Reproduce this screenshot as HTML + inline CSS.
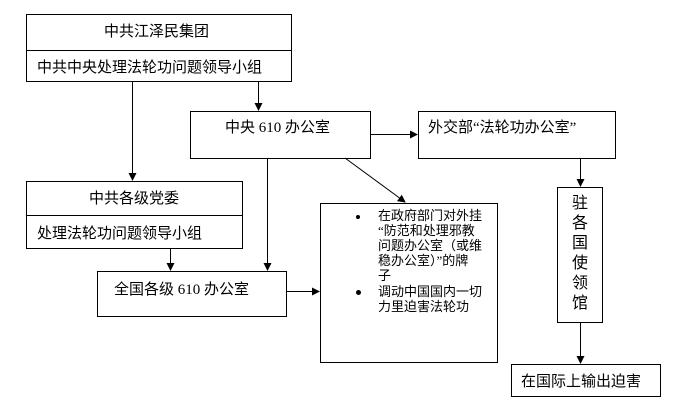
<!DOCTYPE html>
<html><head><meta charset="utf-8"><style>
body{margin:0;background:#fff;width:674px;height:405px;overflow:hidden;position:relative;font-family:"Liberation Serif","Noto Sans CJK SC",sans-serif;color:#000}
.b{position:absolute;border:1px solid #000;box-sizing:border-box;background:#fff}
.t{position:absolute;font-size:15px;white-space:nowrap}
svg{position:absolute;left:0;top:0}
</style></head><body>
<div class="b" style="left:26px;top:14px;width:266px;height:68px"></div>
<div style="position:absolute;left:26px;top:50px;width:266px;height:1px;background:#000"></div>
<div class="t" style="left:104px;top:20px">中共江泽民集团</div>
<div class="t" style="left:37px;top:56px">中共中央处理法轮功问题领导小组</div>

<div class="b" style="left:190px;top:111px;width:181px;height:48px"></div>
<div class="t" style="left:225px;top:116px">中央 610 办公室</div>

<div class="b" style="left:418px;top:111px;width:198px;height:48px"></div>
<div class="t" style="left:428px;top:116px">外交部“法轮功办公室”</div>

<div class="b" style="left:26px;top:181px;width:217px;height:68px"></div>
<div style="position:absolute;left:26px;top:215px;width:217px;height:1px;background:#000"></div>
<div class="t" style="left:89px;top:187px">中共各级党委</div>
<div class="t" style="left:37px;top:222px">处理法轮功问题领导小组</div>

<div class="b" style="left:97px;top:271px;width:190px;height:46px"></div>
<div class="t" style="left:114px;top:278px">全国各级 610 办公室</div>

<div class="b" style="left:320px;top:203px;width:178px;height:160px"></div>
<div style="position:absolute;left:378px;top:208px;font-size:13px;line-height:15px;width:115px">在政府部门对外挂<br>“防范和处理邪教<br>问题办公室（或维<br>稳办公室）”的牌<br>子</div>
<div style="position:absolute;left:378px;top:284px;font-size:13px;line-height:15px;width:115px">调动中国国内一切<br>力里迫害法轮功</div>
<div style="position:absolute;left:356px;top:215px;width:4px;height:4px;border-radius:50%;background:#000"></div>
<div style="position:absolute;left:356px;top:290px;width:5px;height:5px;border-radius:50%;background:#000"></div>

<div class="b" style="left:557px;top:187px;width:46px;height:136px"></div>
<div style="position:absolute;left:572px;top:194px;font-size:16px;line-height:20px;width:18px">驻<br>各<br>国<br>使<br>领<br>馆</div>

<div class="b" style="left:511px;top:364px;width:150px;height:33px"></div>
<div class="t" style="left:521px;top:370px">在国际上输出迫害</div>

<svg width="674" height="405">
<defs><marker id="a" markerWidth="8" markerHeight="8" refX="7" refY="4" orient="auto" markerUnits="userSpaceOnUse"><path d="M0,0L8,4L0,8z"/></marker></defs>
<g stroke="#000" stroke-width="1" marker-end="url(#a)">
<line x1="132.5" y1="82" x2="132.5" y2="180"/>
<line x1="258.5" y1="82" x2="258.5" y2="110"/>
<line x1="371" y1="134.5" x2="417" y2="134.5"/>
<line x1="267.5" y1="159" x2="267.5" y2="270"/>
<line x1="345" y1="158" x2="405" y2="202"/>
<line x1="170.5" y1="249" x2="170.5" y2="270"/>
<line x1="287" y1="291.5" x2="319" y2="291.5"/>
<line x1="580.5" y1="159" x2="580.5" y2="186"/>
<line x1="580.5" y1="323" x2="580.5" y2="363"/>
</g></svg>
</body></html>
